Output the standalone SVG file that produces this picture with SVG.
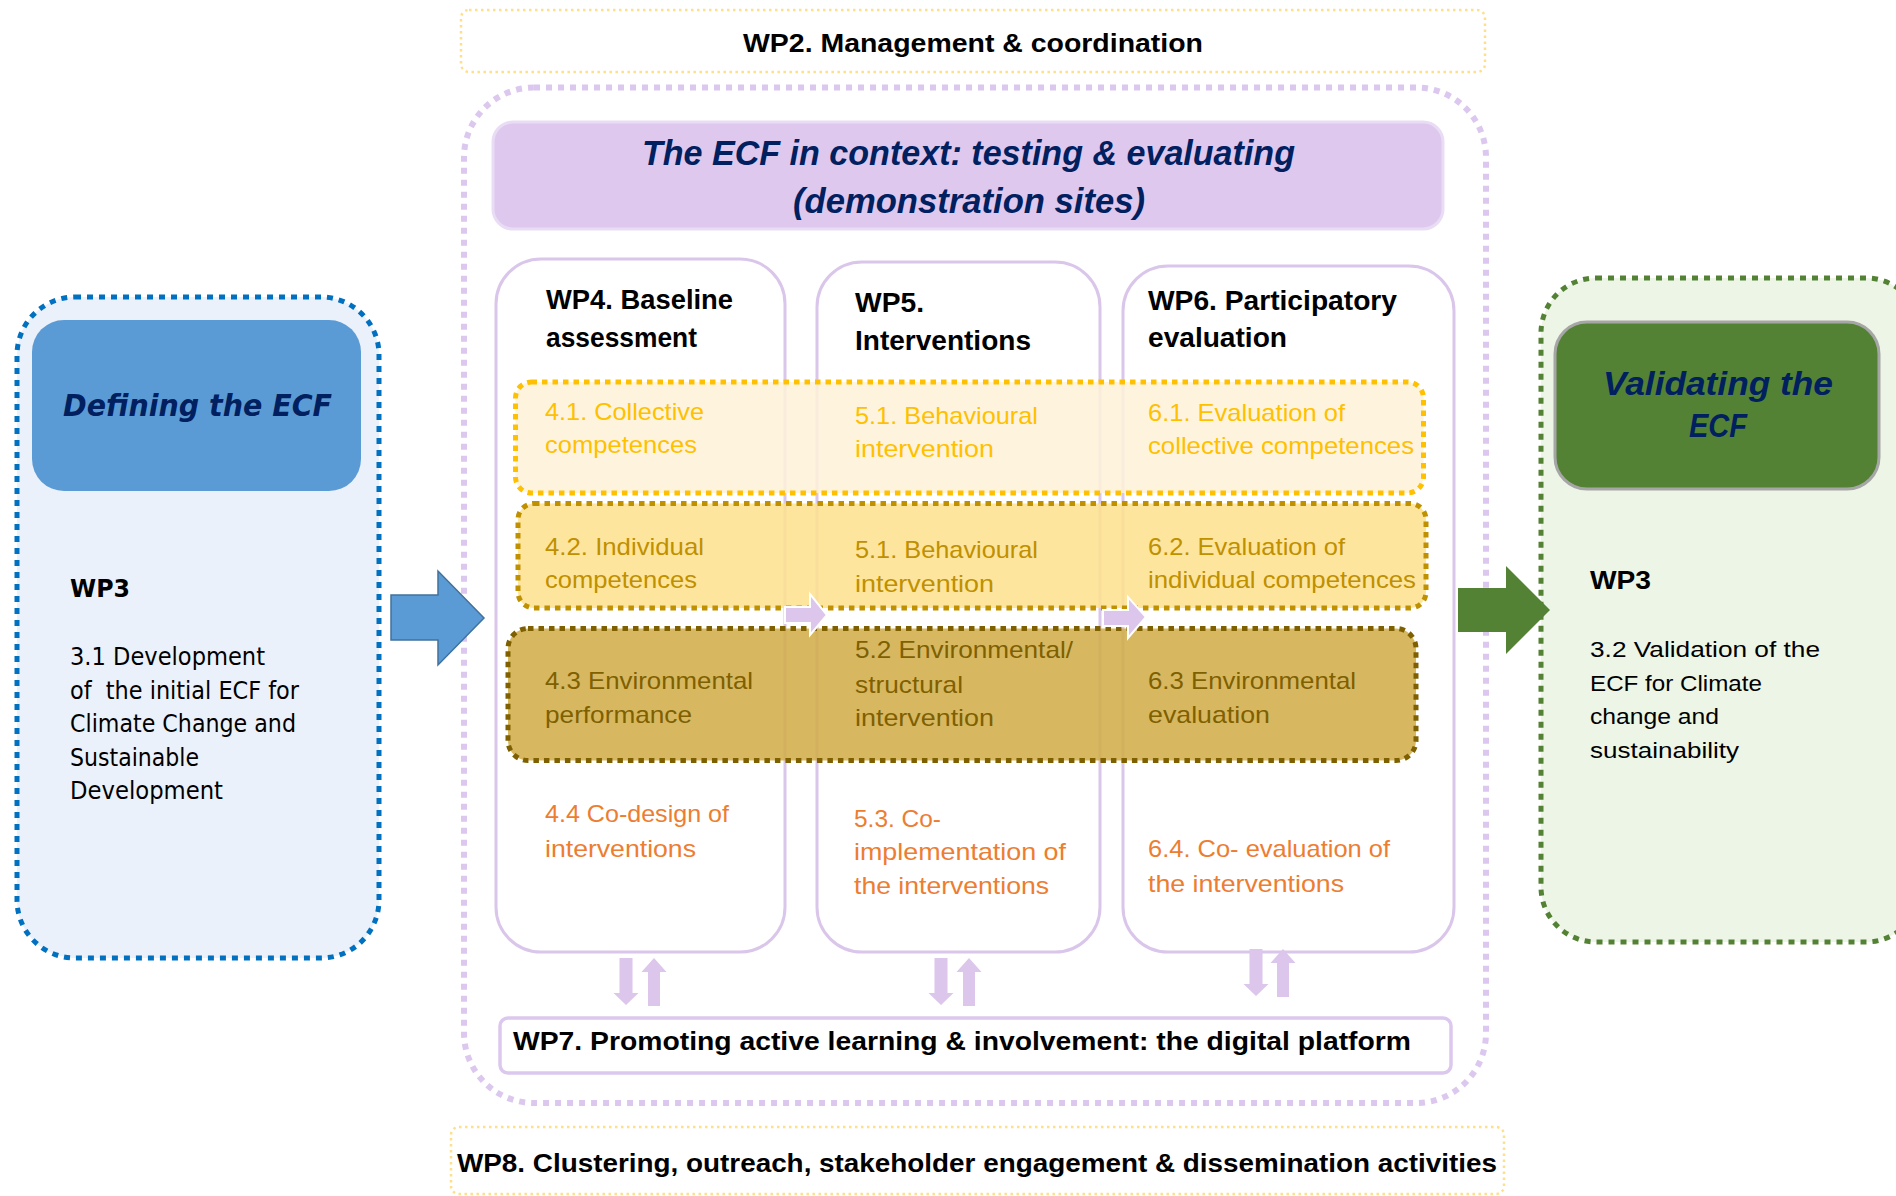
<svg xmlns="http://www.w3.org/2000/svg" xmlns:xlink="http://www.w3.org/1999/xlink" width="1896" height="1196" viewBox="0 0 1896 1196">
<defs>
<style>
.c{font-family:"Liberation Sans",Arial,sans-serif;}
.b{font-weight:bold;}
.bi{font-weight:bold;font-style:italic;fill:#002060;}
.hd{font-size:28px;fill:#000;}
.t{font-size:24px;}
.y1{fill:#ffc000;}
.y2{fill:#bf9000;}
.y3{fill:#7f6000;}
.or{fill:#ed7d31;}
.dv{font-family:"DejaVu Sans",Verdana,sans-serif;fill:#000;}
.col{fill:#fff;stroke:#dac6ea;stroke-width:3;}
.lav{fill:#dcc6ec;}
</style>
<path id="dn" d="M-6.5 0H6.5V35H12.5L0 47L-12.5 35H-6.5Z"/>
<path id="up" d="M0 0L12.5 14H6V48H-6V14H-12.5Z"/>
</defs>
<rect width="1896" height="1196" fill="#fff"/>

<g id="defining-ecf">
<rect x="17" y="297" width="362" height="661" rx="58" fill="#ebf1fa" stroke="#0070c0" stroke-width="5" stroke-dasharray="6 6"/>
<rect x="32" y="320" width="329" height="171" rx="32" fill="#5b9bd5"/>
<text class="dv" x="63" y="416" font-size="31" font-weight="bold" font-style="italic" fill="#002060" style="fill:#002060" textLength="269" lengthAdjust="spacingAndGlyphs">Defining the ECF</text>
<text class="dv" x="70" y="597" font-size="25" font-weight="bold" textLength="60" lengthAdjust="spacingAndGlyphs">WP3</text>
<text class="dv" font-size="24">
<tspan x="70" y="665" textLength="195" lengthAdjust="spacingAndGlyphs">3.1 Development</tspan>
</text>
<text class="dv" font-size="24" x="70" y="699" textLength="229" lengthAdjust="spacingAndGlyphs" style="white-space:pre">of  the initial ECF for</text>
<text class="dv" font-size="24" x="70" y="732" textLength="226" lengthAdjust="spacingAndGlyphs">Climate Change and</text>
<text class="dv" font-size="24" x="70" y="766" textLength="129" lengthAdjust="spacingAndGlyphs">Sustainable</text>
<text class="dv" font-size="24" x="70" y="799" textLength="153" lengthAdjust="spacingAndGlyphs">Development</text>
</g>

<g id="validating-ecf">
<rect x="1541" y="278" width="380" height="664" rx="55" fill="#edf5e7" stroke="#548235" stroke-width="5" stroke-dasharray="6 6"/>
<rect x="1555" y="322" width="324" height="167" rx="32" fill="#548235" stroke="#a6a6a6" stroke-width="3"/>
<text class="c bi" x="1603" y="395" font-size="33" textLength="230" lengthAdjust="spacingAndGlyphs">Validating the</text>
<text class="c bi" x="1689" y="437" font-size="33" textLength="58" lengthAdjust="spacingAndGlyphs">ECF</text>
<text class="c b" x="1590" y="589" font-size="25" textLength="61" lengthAdjust="spacingAndGlyphs">WP3</text>
<text class="c" x="1590" y="657" font-size="22" textLength="230" lengthAdjust="spacingAndGlyphs">3.2 Validation of the</text>
<text class="c" x="1590" y="691" font-size="22" textLength="172" lengthAdjust="spacingAndGlyphs">ECF for Climate</text>
<text class="c" x="1590" y="724" font-size="22" textLength="129" lengthAdjust="spacingAndGlyphs">change and</text>
<text class="c" x="1590" y="758" font-size="22" textLength="149" lengthAdjust="spacingAndGlyphs">sustainability</text>
</g>

<g id="wp2">
<rect x="461" y="10" width="1024" height="62" rx="8" fill="none" stroke="#ffe08a" stroke-width="2.5" stroke-dasharray="2.5 3.5"/>
<text class="c b" x="743" y="52" font-size="26" textLength="460" lengthAdjust="spacingAndGlyphs">WP2. Management &amp; coordination</text>
</g>

<g id="wp8">
<rect x="451" y="1127" width="1053" height="67" rx="8" fill="none" stroke="#ffe08a" stroke-width="2.5" stroke-dasharray="2.5 3.5"/>
<text class="c b" x="457" y="1172" font-size="25" textLength="1040" lengthAdjust="spacingAndGlyphs">WP8. Clustering, outreach, stakeholder engagement &amp; dissemination activities</text>
</g>

<g id="demo-sites">
<rect x="464" y="87.5" width="1022" height="1015.5" rx="70" fill="none" stroke="#dcc8ee" stroke-width="6" stroke-dasharray="6 6"/>
</g>

<g id="title">
<rect x="493" y="122" width="950" height="107" rx="20" fill="#dfc8ee" stroke="#e9dcf5" stroke-width="3"/>
<text class="c bi" x="642" y="165" font-size="35" textLength="653" lengthAdjust="spacingAndGlyphs">The ECF in context: testing &amp; evaluating</text>
<text class="c bi" x="793" y="213" font-size="35" textLength="352" lengthAdjust="spacingAndGlyphs">(demonstration sites)</text>
</g>

<g id="wp4">
<rect class="col" x="496" y="259" width="289" height="693" rx="45"/>
<text class="c b hd" x="546" y="309" textLength="187" lengthAdjust="spacingAndGlyphs">WP4. Baseline</text>
<text class="c b hd" x="546" y="347" textLength="151" lengthAdjust="spacingAndGlyphs">assessment</text>
<text class="c t or" x="545" y="822" textLength="184" lengthAdjust="spacingAndGlyphs">4.4 Co-design of</text>
<text class="c t or" x="545" y="857" textLength="151" lengthAdjust="spacingAndGlyphs">interventions</text>
</g>

<g id="wp5">
<rect class="col" x="817" y="262" width="283" height="690" rx="45"/>
<text class="c b hd" x="855" y="312" textLength="69" lengthAdjust="spacingAndGlyphs">WP5.</text>
<text class="c b hd" x="855" y="350" textLength="176" lengthAdjust="spacingAndGlyphs">Interventions</text>
<text class="c t or" x="854" y="827" textLength="87" lengthAdjust="spacingAndGlyphs">5.3. Co-</text>
<text class="c t or" x="854" y="860" textLength="212" lengthAdjust="spacingAndGlyphs">implementation of</text>
<text class="c t or" x="854" y="894" textLength="195" lengthAdjust="spacingAndGlyphs">the interventions</text>
</g>

<g id="wp6">
<rect class="col" x="1123" y="266" width="331" height="686" rx="45"/>
<text class="c b hd" x="1148" y="310" textLength="249" lengthAdjust="spacingAndGlyphs">WP6. Participatory</text>
<text class="c b hd" x="1148" y="347" textLength="139" lengthAdjust="spacingAndGlyphs">evaluation</text>
<text class="c t or" x="1148" y="857" textLength="242" lengthAdjust="spacingAndGlyphs">6.4. Co- evaluation of</text>
<text class="c t or" x="1148" y="892" textLength="196" lengthAdjust="spacingAndGlyphs">the interventions</text>
</g>

<g id="band-collective">
<rect x="515.5" y="382" width="908" height="111" rx="16" fill="#fef2d8" fill-opacity="0.85" stroke="#ffc000" stroke-width="5" stroke-dasharray="5.5 5"/>
<text class="c t y1" x="545" y="420" textLength="159" lengthAdjust="spacingAndGlyphs">4.1. Collective</text>
<text class="c t y1" x="545" y="453" textLength="152" lengthAdjust="spacingAndGlyphs">competences</text>
<text class="c t y1" x="855" y="424" textLength="183" lengthAdjust="spacingAndGlyphs">5.1. Behavioural</text>
<text class="c t y1" x="855" y="457" textLength="139" lengthAdjust="spacingAndGlyphs">intervention</text>
<text class="c t y1" x="1148" y="421" textLength="197" lengthAdjust="spacingAndGlyphs">6.1. Evaluation of</text>
<text class="c t y1" x="1148" y="454" textLength="266" lengthAdjust="spacingAndGlyphs">collective competences</text>
</g>

<g id="band-individual">
<rect x="518" y="503.5" width="908" height="104.5" rx="16" fill="#fee18c" fill-opacity="0.85" stroke="#bf9000" stroke-width="5" stroke-dasharray="5.5 5"/>
<text class="c t y2" x="545" y="555" textLength="159" lengthAdjust="spacingAndGlyphs">4.2. Individual</text>
<text class="c t y2" x="545" y="588" textLength="152" lengthAdjust="spacingAndGlyphs">competences</text>
<text class="c t y2" x="855" y="558" textLength="183" lengthAdjust="spacingAndGlyphs">5.1. Behavioural</text>
<text class="c t y2" x="855" y="592" textLength="139" lengthAdjust="spacingAndGlyphs">intervention</text>
<text class="c t y2" x="1148" y="555" textLength="197" lengthAdjust="spacingAndGlyphs">6.2. Evaluation of</text>
<text class="c t y2" x="1148" y="588" textLength="268" lengthAdjust="spacingAndGlyphs">individual competences</text>
</g>

<g id="band-environmental">
<rect x="508" y="628.5" width="908" height="132" rx="20" fill="#d0ac44" fill-opacity="0.85" stroke="#7f6000" stroke-width="5" stroke-dasharray="5.5 5"/>
<text class="c t y3" x="545" y="689" textLength="208" lengthAdjust="spacingAndGlyphs">4.3 Environmental</text>
<text class="c t y3" x="545" y="723" textLength="147" lengthAdjust="spacingAndGlyphs">performance</text>
<text class="c t y3" x="855" y="658" textLength="218" lengthAdjust="spacingAndGlyphs">5.2 Environmental/</text>
<text class="c t y3" x="855" y="693" textLength="108" lengthAdjust="spacingAndGlyphs">structural</text>
<text class="c t y3" x="855" y="726" textLength="139" lengthAdjust="spacingAndGlyphs">intervention</text>
<text class="c t y3" x="1148" y="689" textLength="208" lengthAdjust="spacingAndGlyphs">6.3 Environmental</text>
<text class="c t y3" x="1148" y="723" textLength="122" lengthAdjust="spacingAndGlyphs">evaluation</text>
</g>

<g id="wp7">
<rect x="500" y="1018" width="951" height="55" rx="8" fill="#fff" stroke="#dcc8ee" stroke-width="3.5"/>
<text class="c b" x="513" y="1050" font-size="25" textLength="898" lengthAdjust="spacingAndGlyphs">WP7. Promoting active learning &amp; involvement: the digital platform</text>
</g>

<g id="connectors">
<polygon points="391,595 438,595 438,571 484,618 438,665 438,640 391,640" fill="#5b9bd5" stroke="#41719c" stroke-width="1.5"/>
<polygon points="1458,588 1506,588 1506,566 1550,610 1506,654 1506,632 1458,632" fill="#548235"/>
<polygon class="lav" points="785,607 810,607 810,594 827,615 810,635 810,623 785,623" stroke="#fff" stroke-width="2"/>
<polygon class="lav" points="1103,610 1128,610 1128,597 1146,617 1128,638 1128,626 1103,626" stroke="#fff" stroke-width="2"/>
<use xlink:href="#dn" class="lav" transform="translate(626,958)"/>
<use xlink:href="#up" class="lav" transform="translate(654,958)"/>
<use xlink:href="#dn" class="lav" transform="translate(941,958)"/>
<use xlink:href="#up" class="lav" transform="translate(969,958)"/>
<use xlink:href="#dn" class="lav" transform="translate(1256,949)"/>
<use xlink:href="#up" class="lav" transform="translate(1283,949)"/>
</g>
</svg>
